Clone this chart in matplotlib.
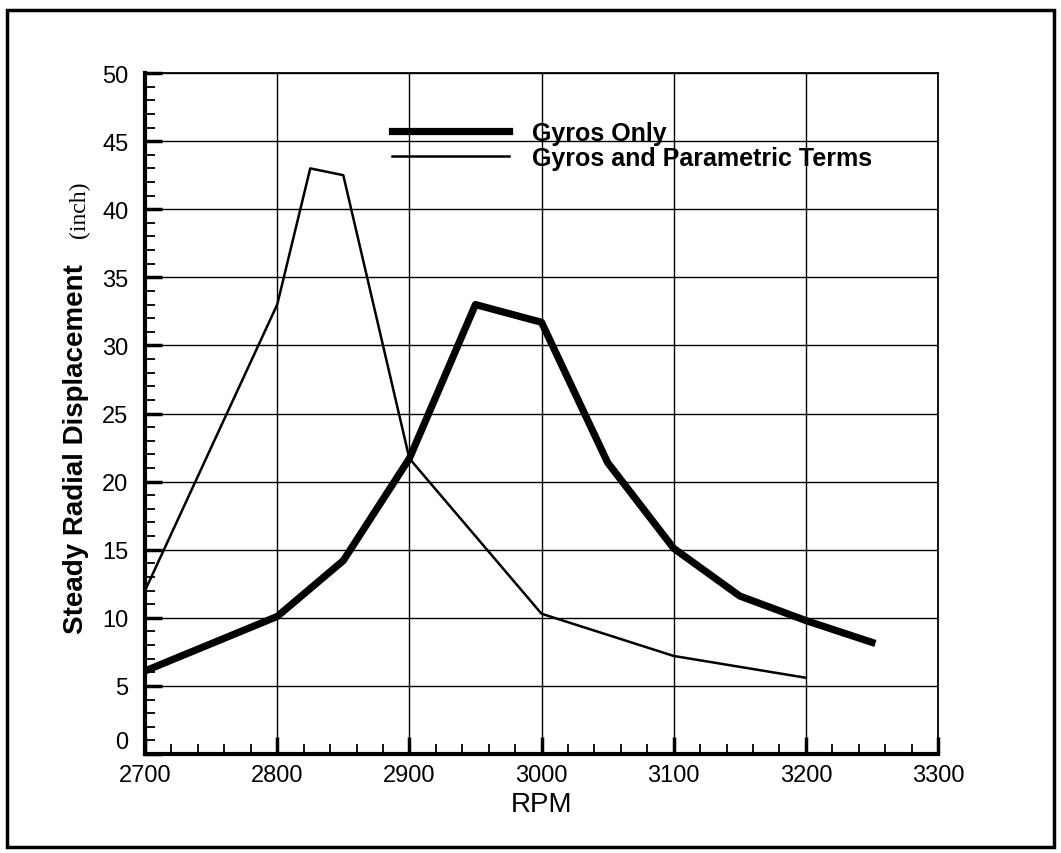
import matplotlib
matplotlib.use('Agg')
import matplotlib.pyplot as plt
from matplotlib.patches import Rectangle
from matplotlib.ticker import MultipleLocator, FuncFormatter

# data
rpm_gyro = [2700, 2800, 2850, 2900, 2950, 3000, 3050, 3100, 3150, 3200, 3250]
disp_gyro = [6.1, 10.1, 14.2, 21.7, 33.0, 31.7, 21.4, 15.1, 11.6, 9.8, 8.2]
rpm_param = [2700, 2800, 2825, 2850, 2900, 3000, 3100, 3200]
disp_param = [12.0, 33.0, 43.0, 42.5, 21.7, 10.3, 7.2, 5.6]

labels = ['Gyros Only', 'Gyros and Parametric Terms']

plt.rcParams['font.family'] = ['Liberation Sans', 'DejaVu Sans']

fig = plt.figure(figsize=(10.61, 8.54), dpi=100)
ax = fig.add_axes([0.1367, 0.1159, 0.7474, 0.7974])

ax.plot(rpm_gyro, disp_gyro, color='black', lw=5.2, label=labels[0], zorder=3)
ax.plot(rpm_param, disp_param, color='black', lw=1.8, label=labels[1], zorder=3)

ax.set_xlim(2700, 3300)
ax.set_ylim(0, 50)
ax.xaxis.set_major_locator(MultipleLocator(100))
ax.xaxis.set_minor_locator(MultipleLocator(20))
ax.yaxis.set_major_locator(MultipleLocator(5))
ax.yaxis.set_minor_locator(MultipleLocator(1))
# the "0" label is drawn separately, a bit higher, so it clears "2700"
ax.yaxis.set_major_formatter(FuncFormatter(lambda v, p: '' if v == 0 else f'{v:g}'))
ax.grid(True, which='major', color='black', lw=1.0)
ax.tick_params(which='major', direction='in', length=12, width=2.5, labelsize=17, pad=7)
ax.tick_params(which='minor', direction='in', length=7, width=1.3)
ax.tick_params(axis='y', which='major', pad=12)

ax.annotate('0', xy=(0, 0), xycoords=('axes fraction', 'data'), xytext=(-12, 1),
            textcoords='offset points', ha='right', va='bottom', fontsize=17)

for s in ['left', 'bottom']:
    ax.spines[s].set_linewidth(3)
for s in ['top', 'right']:
    ax.spines[s].set_linewidth(1.3)

leg = ax.legend(loc='upper left', bbox_to_anchor=(0.311, 0.93), frameon=False,
                handlelength=4.7, handletextpad=0.9, labelspacing=0.05,
                borderpad=0, borderaxespad=0, prop={'weight': 'bold', 'size': 18})

ax.set_xlabel('RPM', fontsize=20, labelpad=4)
fig.text(0.072, 0.474, 'Steady Radial Displacement', rotation=90, fontsize=20,
         fontweight='bold', ha='center', va='center')
fig.text(0.075, 0.754, '(inch)', rotation=90, fontsize=17, family='Liberation Serif',
         ha='center', va='center')

# outer frame
fig.patches.append(Rectangle((0.007, 0.007), 0.986, 0.98, transform=fig.transFigure,
                             fill=False, lw=2.5, edgecolor='black'))

fig.savefig('out.png', dpi=100)
